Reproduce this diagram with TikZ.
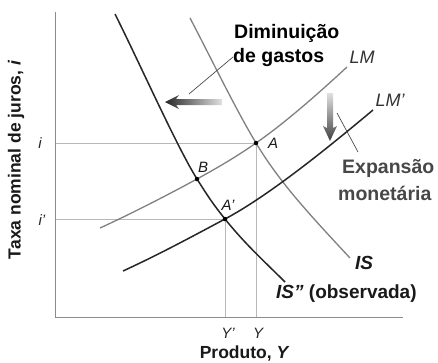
\documentclass[tikz,border=0pt]{standalone}
\usepackage{fontspec}
\setmainfont{Liberation Sans}
\begin{document}
\begin{tikzpicture}[x=1pt,y=-1pt,
  darkcurve/.style={draw=black!85, line width=1.5pt},
  lightcurve/.style={draw=black!50, line width=1.3pt},
  guide/.style={draw=black!28, line width=0.6pt},
  axis/.style={draw=black!45, line width=0.8pt},
  leader/.style={draw=black!70, line width=0.7pt},
  ptlbl/.style={font=\fontsize{15}{17}\selectfont\itshape, text=black!90, inner sep=0pt},
  crvlbl/.style={font=\fontsize{18}{20}\selectfont\itshape, text=black!80, inner sep=0pt},
  islbl/.style={font=\fontsize{19}{21}\selectfont\bfseries, text=black!90, inner sep=0pt},
  annot/.style={font=\fontsize{19.5}{21}\selectfont\bfseries, inner sep=0pt},
  axlbl/.style={font=\fontsize{17.5}{19}\selectfont\bfseries, text=black!90, inner sep=0pt},
  tick/.style={font=\fontsize{15}{17}\selectfont\itshape, text=black!85, inner sep=0pt},
  ptdot/.style={circle, fill=black, inner sep=0pt, minimum size=4.5pt}]
\useasboundingbox (0,0) rectangle (438,362);
\fill[white] (0,0) rectangle (438,362);

% key points
\coordinate (A) at (256,143);
\coordinate (B) at (197,179);
\coordinate (Ap) at (225,219);

% axes
\coordinate (O) at (55,317);
\coordinate (Ytop) at (55,12);
\coordinate (Xend) at (403,317);

% guide lines
\coordinate (iA) at (55,143);
\coordinate (yA) at (256,317);
\coordinate (iAp) at (55,219);
\coordinate (yAp) at (225,317);
\draw[guide] (iA) -- (A) -- (yA);
\draw[guide] (iAp) -- (Ap) -- (yAp);

\draw[axis] (Ytop) -- (O) -- (Xend);

% IS
\draw[lightcurve] (190,18) .. controls (212,60) and (235,108) .. (A)
  .. controls (280,183) and (310,215) .. (350,258);
% LM
\draw[lightcurve] (100,228) .. controls (135,212) and (175,191) .. (B)
  .. controls (217,168) and (236,157) .. (A)
  .. controls (285,123) and (320,92) .. (347,67);
% IS''
\draw[darkcurve] (115,14) .. controls (140,64) and (177,147) .. (B)
  .. controls (209,198) and (213,204) .. (Ap)
  .. controls (245,244) and (265,262) .. (285,282);
% LM'
\draw[darkcurve] (123,271) .. controls (160,254) and (195,235) .. (Ap)
  .. controls (270,195) and (330,146) .. (373,110);

% points
\node[ptdot] (dA) at (A) {};
\node[ptdot] (dB) at (B) {};
\node[ptdot] (dAp) at (Ap) {};

% point labels
\node[ptlbl] (lA) at (273,143) {A};
\node[ptlbl] (lB) at (203,167) {B};
\node[ptlbl] (lAp) at (228,205) {A’};

% curve labels
\node[crvlbl] (lLM) at (362,57) {LM};
\node[crvlbl] (lLMp) at (390,100) {LM’};
\node[islbl] (lIS) at (364,263) {\itshape IS};
\node[islbl, anchor=west] (lISpp) at (276,294) {\itshape IS” \upshape(observada)};

% arrows
\shade[left color=black!85, right color=black!12]
  (165,102) -- (179,95) -- (176,99) -- (222,99) -- (222,105) -- (176,105) -- (179,109) -- cycle;
\shade[top color=black!12, bottom color=black!75]
  (330,141) -- (323,126) -- (327,128) -- (327,93) -- (333,93) -- (333,128) -- (337,126) -- cycle;

% annotations
\node[annot, anchor=west] (dim) at (234,33) {Diminuição};
\node[annot, anchor=west] (gastos) at (233,57) {de gastos};
\node[annot, text=black!72, anchor=west] (exp) at (342,168) {Expansão};
\node[annot, text=black!72, anchor=west] (mon) at (338,193) {monetária};

\coordinate (g1) at (189,94);
\draw[leader] (g1) -- (gastos.west);
\coordinate (e1) at (337,113);
\coordinate (e2) at (358,152);
\draw[leader] (e1) -- (e2);

% ticks
\node[tick] (ti) at (40,143) {i};
\node[tick] (tip) at (42,220) {i’};
\node[tick] (tYp) at (228,333) {Y’};
\node[tick] (tY) at (258,333) {Y};

% axis titles
\node[axlbl] (xt) at (244,354) {Produto, \itshape Y};
\node[axlbl, rotate=90] (yt) at (16,160) {Taxa nominal de juros, \itshape i};
\end{tikzpicture}
\end{document}
